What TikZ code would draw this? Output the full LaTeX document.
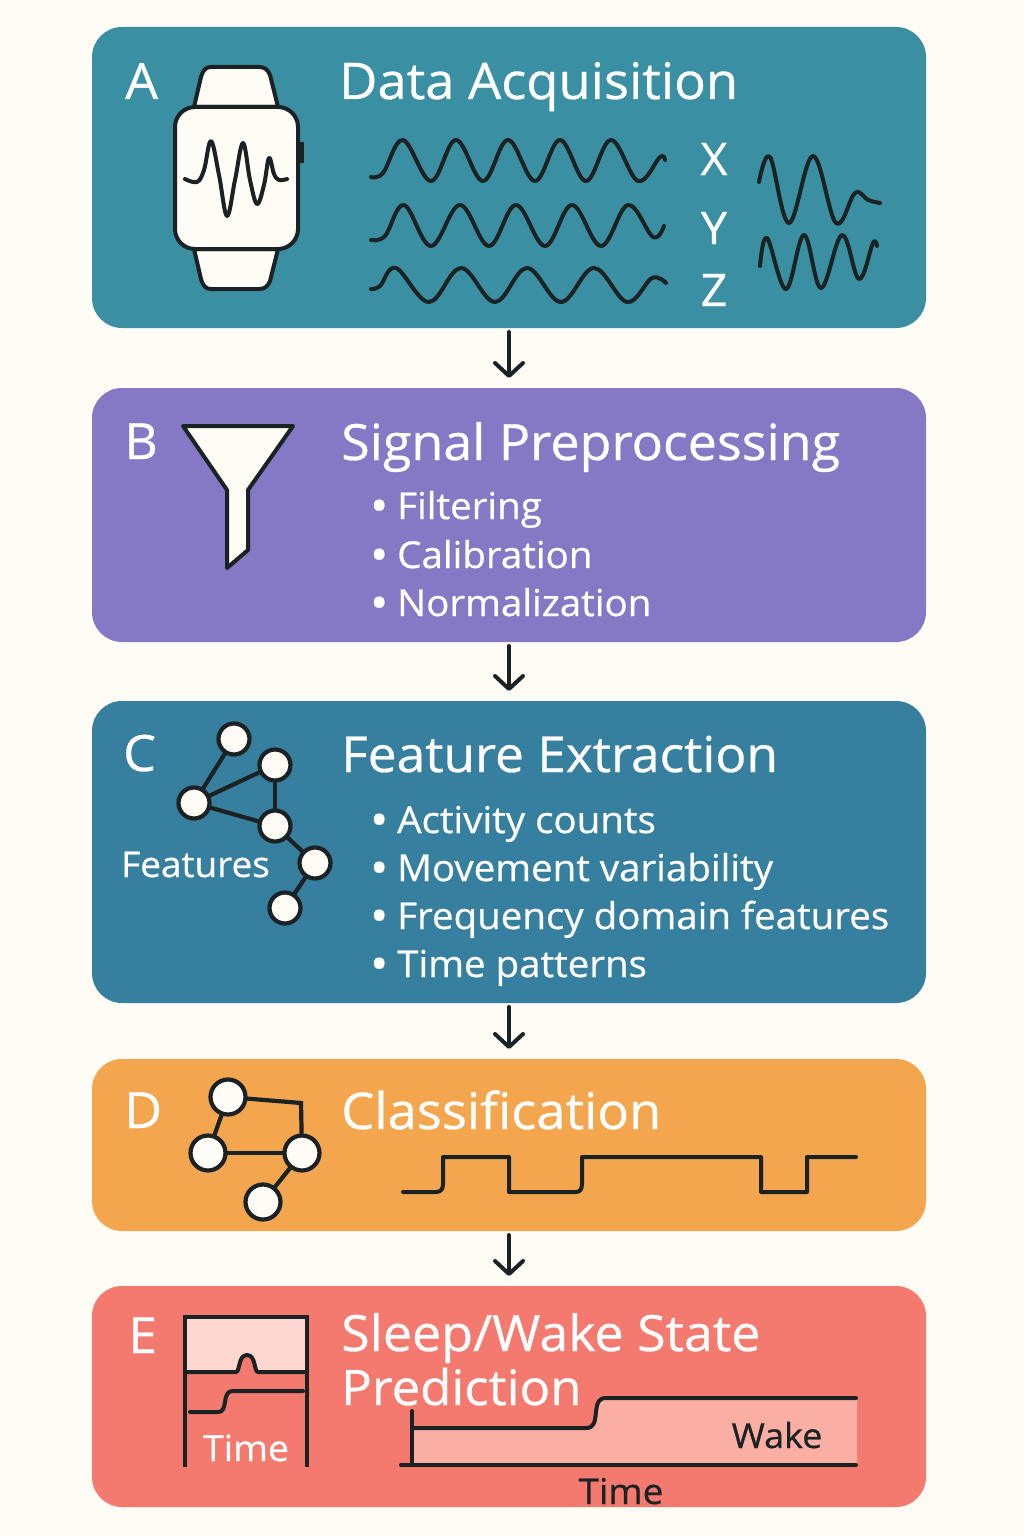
\documentclass[tikz,border=0pt]{standalone}
\usepackage{fontspec}
\setmainfont[FakeStretch=1.04,FakeBold=0.6]{Open Sans}
\usetikzlibrary{arrows.meta}
\definecolor{bgc}{HTML}{FFFCF6}
\definecolor{ink}{HTML}{1B2224}
\definecolor{cream}{HTML}{FFFBF5}
\definecolor{pa}{HTML}{3A8FA3}
\definecolor{pb}{HTML}{8579C6}
\definecolor{pc}{HTML}{367F9F}
\definecolor{pd}{HTML}{F4A64E}
\definecolor{pe}{HTML}{F4796E}
\definecolor{pinkl}{HTML}{FCD6CF}
\definecolor{pinkm}{HTML}{FBAEA3}
\tikzset{
  panel/.style={rounded corners=30pt,minimum width=834pt,inner sep=0pt,outer sep=0pt,draw=none},
  flow/.style={draw=ink,line width=4pt,line cap=round,shorten <=4pt,shorten >=10pt,-{Straight Barb[round,length=13pt,width=28pt,line width=4pt]}},
  ttl/.style={anchor=base west,inner sep=0pt,text=white,font=\fontsize{50}{50}\selectfont},
  lett/.style={anchor=base west,inner sep=0pt,text=white,font=\fontsize{50}{50}\selectfont},
  item/.style={anchor=base west,inner sep=0pt,text=white,font=\fontsize{37}{37}\selectfont},
  lab/.style={anchor=base,inner sep=0pt,font=\fontsize{36}{36}\selectfont},
  axl/.style={anchor=center,inner sep=0pt,text=white,font=\fontsize{45}{45}\selectfont},
  ln/.style={draw=ink,line width=4pt,line cap=round,line join=round},
  wave/.style={ln,smooth,tension=0.62},
  dot/.style={circle,draw=ink,fill=cream,line width=4.2pt,inner sep=0pt,outer sep=0pt,minimum size=#1},
  conn/.style={draw=ink,line width=4.2pt}
}
\newcommand{\bul}{\makebox[27pt][l]{\raisebox{-3pt}{\fontsize{46}{46}\selectfont •}}}
\begin{document}
\begin{tikzpicture}[x=1pt,y=-1pt]
\useasboundingbox (0,0) rectangle (1024,1536);
\fill[bgc] (0,0) rectangle (1024,1536);
% panels
\node[panel,fill=pa,minimum height=301pt] (panelA) at (509,177.5) {};
\node[panel,fill=pb,minimum height=254pt] (panelB) at (509,515) {};
\node[panel,fill=pc,minimum height=302pt] (panelC) at (509,852) {};
\node[panel,fill=pd,minimum height=172pt] (panelD) at (509,1145) {};
\node[panel,fill=pe,minimum height=221pt] (panelE) at (509,1396.5) {};
\draw[flow] (panelA) -- (panelB);
\draw[flow] (panelB) -- (panelC);
\draw[flow] (panelC) -- (panelD);
\draw[flow] (panelD) -- (panelE);
% A
\node[lett] (la) at (125,99) {A};
\node[ttl,font=\fontsize{50.5}{50}\selectfont] (ta) at (339,99) {Data Acquisition};
\filldraw[ln,fill=cream] (194,107) -- (201,77) .. controls (203,70) and (206,67) .. (211,67) -- (259,67) .. controls (265,67) and (268,70) .. (270,75) -- (278,107) -- cycle;
\filldraw[ln,fill=cream] (194,249) -- (201,279) .. controls (203,286) and (206,289) .. (211,289) -- (259,289) .. controls (265,289) and (268,286) .. (270,281) -- (278,249) -- cycle;
\filldraw[ln,fill=cream,rounded corners=20pt] (175,107) rectangle (298,249);
\fill[ink] (300,142) rectangle (304,163);
\draw[wave] plot coordinates {(185,179) (197,182) (204,170) (211,141) (219,175) (227,216) (235,180) (243,143) (250,180) (257,204) (264,185) (269,158) (274,174) (279,180) (287,179)};
\draw[wave] plot coordinates {(371,177) (383,173) (403,140) (431,181) (456,140) (483,181) (508,140) (535,181) (560,140) (586,181) (611,140) (638,181) (660,157) (665,160)};
\draw[wave] plot coordinates {(371,240) (385,236) (404,205) (431,246) (460,205) (489,246) (516,205) (545,246) (572,205) (601,246) (628,205) (653,237) (664,226)};
\draw[wave] plot coordinates {(371,289) (380,286) (396,268) (429,302) (461,268) (495,302) (527,268) (561,302) (594,268) (627,302) (652,278) (666,283)};
\node[axl] (ax) at (714,159) {X};
\node[axl] (ay) at (714,228) {Y};
\node[axl] (az) at (714,290) {Z};
\draw[wave] plot coordinates {(759,182) (770,157) (789,223) (813,156) (836,223) (855,193) (868,200) (880,203)};
\draw[wave] plot coordinates {(760,266) (767,238) (786,289) (804,235) (821,288) (842,235) (859,279) (873,243) (877,246)};
% B
\node[lett] (lb) at (124,459) {B};
\node[ttl] (tb) at (341,460) {Signal Preprocessing};
\filldraw[ln,fill=cream] (183,426) -- (293,426) -- (248,490) -- (248,550) -- (227,568) -- (227,490) -- cycle;
\node[item] (b1) at (370,519) {\bul Filtering};
\node[item] (b2) at (370,568) {\bul Calibration};
\node[item] (b3) at (370,616) {\bul Normalization};
% C
\node[lett] (lc) at (123,771) {C};
\node[ttl,font=\fontsize{49.5}{50}\selectfont] (tc) at (341,772) {Feature Extraction};
\node[dot=31pt] (c1) at (234,739) {};
\node[dot=31pt] (c2) at (275,765) {};
\node[dot=31pt] (c3) at (194,803) {};
\node[dot=31pt] (c4) at (275,826) {};
\node[dot=31pt] (c5) at (315,863) {};
\node[dot=31pt] (c6) at (285,908) {};
\draw[conn] (c1) -- (c3);
\draw[conn] (c3) -- (c2);
\draw[conn] (c2) -- (c4);
\draw[conn] (c3) -- (c4);
\draw[conn] (c4) -- (c5);
\draw[conn] (c5) -- (c6);
\node[item,font=\fontsize{35.5}{36}\selectfont] (cf) at (121,877) {Features};
\node[item] (c_1) at (370,833) {\bul Activity counts};
\node[item] (c_2) at (370,881) {\bul Movement variability};
\node[item] (c_3) at (370,929) {\bul Frequency domain features};
\node[item] (c_4) at (370,977) {\bul Time patterns};
% D
\node[lett] (ld) at (124,1128) {D};
\node[ttl,font=\fontsize{50.5}{50}\selectfont] (td) at (341,1129) {Classification};
\node[dot=35pt] (d1) at (228,1097) {};
\node[dot=35pt] (d2) at (208,1153) {};
\node[dot=35pt] (d3) at (302,1153) {};
\node[dot=35pt] (d4) at (263,1202) {};
\coordinate (dk) at (301,1103);
\draw[conn,line join=miter] (d1) -- (dk) -- (d3);
\draw[conn] (d1) -- (d2);
\draw[conn] (d2) -- (d3);
\draw[conn] (d3) -- (d4);
\draw[ln] (403,1192) -- (436,1192) .. controls (441,1192) and (443,1189) .. (443,1184) -- (443,1157) -- (509,1157) -- (509,1192) -- (576,1192) .. controls (580,1192) and (582,1189) .. (582,1184) -- (582,1157) -- (761,1157) -- (761,1192) -- (807,1192) -- (807,1157) -- (856,1157);
% E
\node[lett] (le) at (128,1353) {E};
\node[ttl] (te1) at (341,1351) {Sleep/Wake State};
\node[ttl,font=\fontsize{49}{50}\selectfont] (te2) at (341,1405) {Prediction};
\fill[pinkl] (185,1317) -- (307,1317) -- (307,1372) -- (258,1372) .. controls (254,1372) and (256,1355) .. (247,1355) .. controls (238,1355) and (240,1372) .. (236,1372) -- (185,1372) -- cycle;
\draw[ln,line cap=butt,line join=miter] (185,1467) -- (185,1317) -- (307,1317) -- (307,1467);
\draw[ln,line cap=butt] (185,1372) -- (236,1372) .. controls (240,1372) and (238,1355) .. (247,1355) .. controls (256,1355) and (254,1372) .. (258,1372) -- (307,1372);
\draw[ln] (190,1412) -- (218,1412) .. controls (223,1412) and (224,1408) .. (225,1402) .. controls (226,1394) and (228,1391) .. (233,1391) -- (303,1391);
\node[lab,text=white] (et) at (246,1461) {Time};
\fill[pinkm] (412,1465) -- (412,1428) -- (586,1428) .. controls (594,1428) and (595,1422) .. (596,1412) .. controls (597,1402) and (599,1398) .. (606,1398) -- (857,1398) -- (857,1465) -- cycle;
\draw[ln] (412,1428) -- (586,1428) .. controls (594,1428) and (595,1422) .. (596,1412) .. controls (597,1402) and (599,1398) .. (606,1398) -- (856,1398);
\draw[ln] (412,1411) -- (412,1465);
\draw[ln] (401,1465) -- (856,1465);
\node[lab,text=ink,font=\fontsize{34.5}{36}\selectfont] (ew) at (777,1448) {Wake};
\node[lab,text=ink,font=\fontsize{35.5}{36}\selectfont] (ex) at (621,1504) {Time};
\end{tikzpicture}
\end{document}
